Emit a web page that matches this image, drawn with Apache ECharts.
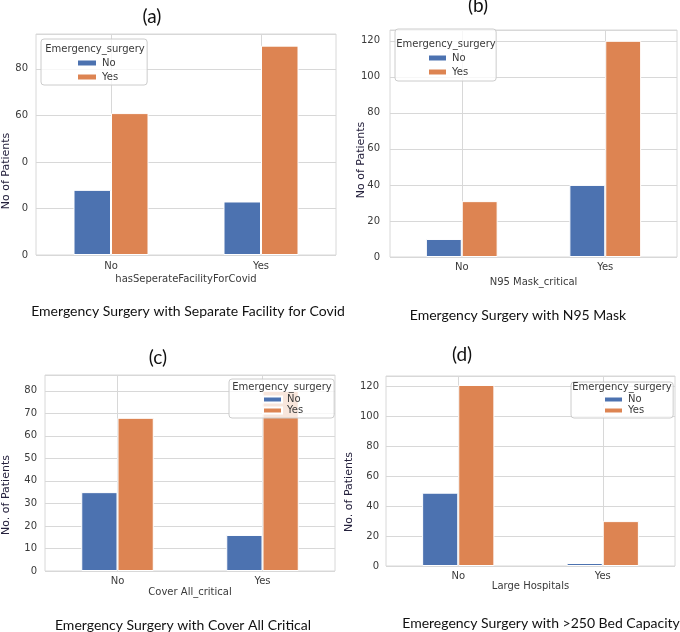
<!DOCTYPE html>
<html>
<head>
<meta charset="utf-8">
<script src="https://cdn.jsdelivr.net/npm/echarts@6/dist/echarts.min.js"></script>
<style>html,body{margin:0;padding:0;background:#fff}#c{width:680px;height:632px}</style>
</head>
<body>
<div id="c"></div>
<script>
// ---- data ----
const categories = ['No', 'Yes'];
const seriesNames = ['No', 'Yes'];
const legendTitle = 'Emergency_surgery';

const aNo = [28, 23];
const aYes = [61, 90];
const bNo = [10, 40];
const bYes = [31, 120];
const cNo = [35, 16];
const cYes = [68, 80];
const dNo = [49, 2];
const dYes = [121, 30];

const aTicks = ['0', '0', '0', '60', '80'];
const bTicks = ['0', '20', '40', '60', '80', '100', '120'];
const cTicks = ['0', '10', '20', '30', '40', '50', '60', '70', '80'];
const dTicks = ['0', '20', '40', '60', '80', '100', '120'];

const panelLabels = ['(a)', '(b)', '(c)', '(d)'];
const xNames = ['hasSeperateFacilityForCovid', 'N95 Mask_critical', 'Cover All_critical', 'Large Hospitals'];
const yNames = ['No of Patients', 'No of Patients', 'No. of Patients', 'No. of Patients'];
const captions = [
  'Emergency Surgery with Separate Facility for Covid',
  'Emergency Surgery with N95 Mask',
  'Emergency Surgery with Cover All Critical',
  'Emeregency Surgery with >250 Bed Capacity'
];

// ---- layout / style ----
const BLUE = '#4c72b0', ORANGE = '#dd8452';
const GRIDC = '#d8d8d8';
const TXT = '#3a3a3a';
const FONT = 'DejaVu Sans';
const CAPFONT = 'Lato';

const panels = [
  {grid: {left: 36, top: 34, width: 300, height: 221}, max: 95, interval: 20, ticks: aTicks, no: aNo, yes: aYes,
   nameGap: 19, labelMargin: 6, tickMargin: 8,
   legend: {left: 41, top: 39, padding: [18, 29, 2, 35], itemHeight: 7, lineHeight: 12, itemGap: 2, itemWidth: 20},
   legendTitleY: 49, legendTitleX: 95,
   label: [152, 17], caption: [188, 311], yName: [6, 171]},
  {grid: {left: 390, top: 30, width: 287, height: 227}, max: 126, interval: 20, ticks: bTicks, no: bNo, yes: bYes,
   nameGap: 20, labelMargin: 5, tickMargin: 10,
   legend: {left: 395, top: 29, padding: [23, 28, 3, 32], itemHeight: 7, lineHeight: 12, itemGap: 2, itemWidth: 19},
   legendTitleY: 44, legendTitleX: 446,
   label: [478, 6], caption: [518, 315], yName: [361, 160]},
  {grid: {left: 45, top: 375, width: 290, height: 196}, max: 87, interval: 10, ticks: cTicks, no: cNo, yes: cYes,
   nameGap: 16, labelMargin: 5, tickMargin: 8,
   legend: {left: 229, top: 379, padding: [15, 31, 2, 33], itemHeight: 6, lineHeight: 11, itemGap: 0, itemWidth: 19},
   legendTitleY: 387, legendTitleX: 282,
   label: [158, 358], caption: [183, 625], yName: [6, 495]},
  {grid: {left: 386, top: 376, width: 289, height: 190}, max: 127, interval: 20, ticks: dTicks, no: dNo, yes: dYes,
   nameGap: 15, labelMargin: 5, tickMargin: 7,
   legend: {left: 571, top: 382, padding: [12, 29, 2, 32], itemHeight: 6, lineHeight: 11, itemGap: 0, itemWidth: 19},
   legendTitleY: 387, legendTitleX: 622,
   label: [462, 355], caption: [541, 623], yName: [349, 492]}
];

const grids = [], xAxes = [], yAxes = [], series = [], legends = [], graphics = [];

panels.forEach((p, i) => {
  grids.push(Object.assign({show: true, borderColor: GRIDC, borderWidth: 1, backgroundColor: '#fff'}, p.grid));
  xAxes.push({
    type: 'category', gridIndex: i, data: categories,
    name: xNames[i], nameLocation: 'middle', nameGap: p.nameGap,
    nameTextStyle: {fontFamily: FONT, fontSize: 10, color: TXT},
    axisLine: {show: false}, axisTick: {show: false},
    axisLabel: {fontFamily: FONT, fontSize: 10, color: TXT, margin: p.labelMargin},
    splitLine: {show: true, alignWithLabel: true, lineStyle: {color: GRIDC, width: 1}}
  });
  yAxes.push({
    type: 'value', gridIndex: i, min: 0, max: p.max, interval: p.interval,
    axisLine: {show: false}, axisTick: {show: false},
    axisLabel: {
      fontFamily: FONT, fontSize: 10, color: TXT, margin: p.tickMargin,
      formatter: v => {
        const k = Math.round(v / p.interval);
        return (Math.abs(v - k * p.interval) < 1e-6 && k < p.ticks.length) ? p.ticks[k] : '';
      }
    },
    splitLine: {show: true, lineStyle: {color: GRIDC, width: 1}}
  });
  [[seriesNames[0], p.no, BLUE], [seriesNames[1], p.yes, ORANGE]].forEach(([nm, d, col]) => {
    series.push({
      type: 'bar', name: nm, xAxisIndex: i, yAxisIndex: i, data: d,
      barWidth: '25%', barGap: '0%',
      itemStyle: {color: col, borderColor: '#ffffff', borderWidth: 1},
      emphasis: {disabled: true}
    });
  });
  const L = p.legend;
  legends.push({
    data: seriesNames, orient: 'vertical', left: L.left, top: L.top, padding: L.padding,
    itemWidth: L.itemWidth, itemHeight: L.itemHeight, itemGap: L.itemGap, icon: 'rect',
    backgroundColor: 'rgba(255,255,255,0.8)', borderColor: '#cccccc', borderWidth: 1, borderRadius: 3,
    textStyle: {fontFamily: FONT, fontSize: 10, color: TXT, lineHeight: L.lineHeight},
    z: 10
  });
  graphics.push({
    type: 'text', x: p.legendTitleX, y: p.legendTitleY, z: 100,
    style: {text: legendTitle, fontFamily: FONT, fontSize: 10, fill: TXT, align: 'center', verticalAlign: 'middle'}
  });
  graphics.push({
    type: 'text', x: p.label[0], y: p.label[1], z: 100,
    style: {text: panelLabels[i], fontFamily: CAPFONT, fontSize: 19, fill: '#111', align: 'center', verticalAlign: 'middle'}
  });
  graphics.push({
    type: 'text', x: p.caption[0], y: p.caption[1], z: 100,
    style: {text: captions[i], fontFamily: CAPFONT, fontSize: 14, fill: '#111', align: 'center', verticalAlign: 'middle'}
  });
  graphics.push({
    type: 'text', x: p.yName[0], y: p.yName[1], rotation: Math.PI / 2, z: 100,
    style: {text: yNames[i], fontFamily: FONT, fontSize: 11, fill: '#25213d', align: 'center', verticalAlign: 'middle'}
  });
});

const chart = echarts.init(document.getElementById('c'), null, {renderer: 'canvas'});
chart.setOption({
  backgroundColor: '#ffffff',
  animation: false,
  grid: grids, xAxis: xAxes, yAxis: yAxes, series: series, legend: legends,
  graphic: {elements: graphics}
});
</script>
</body>
</html>
